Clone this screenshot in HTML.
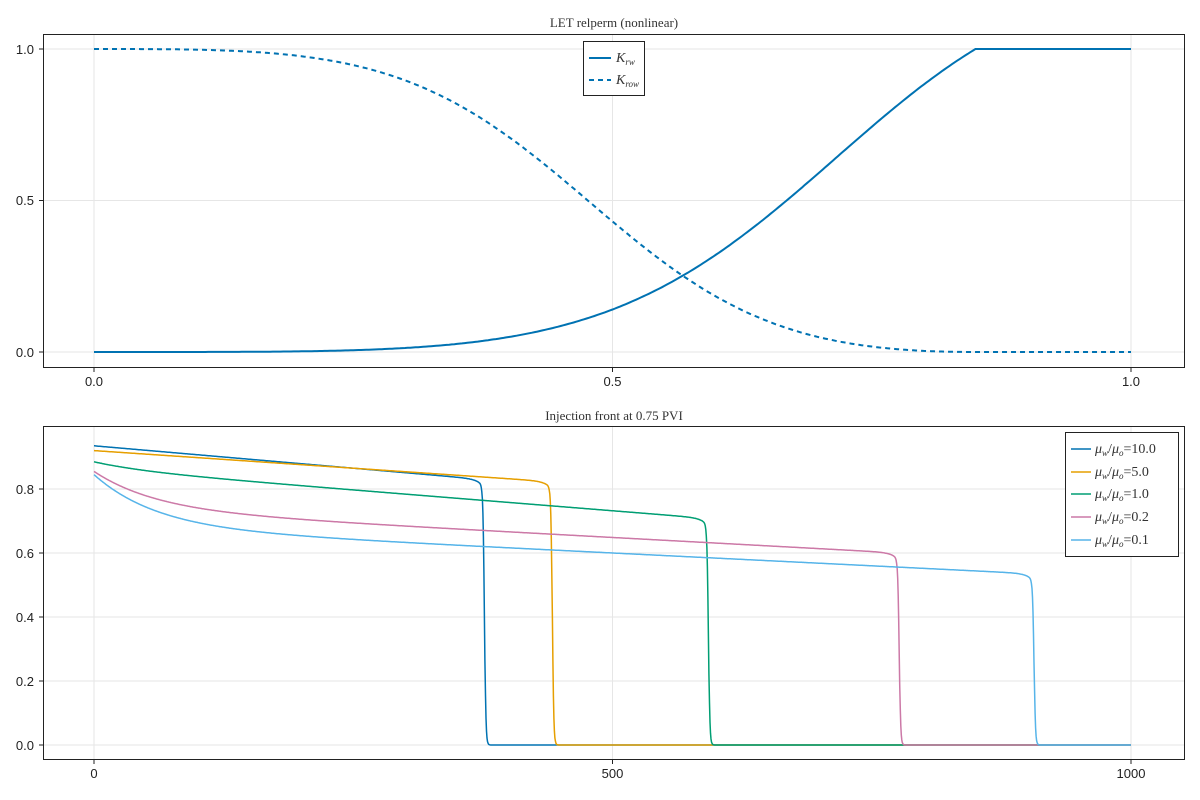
<!DOCTYPE html>
<html><head><meta charset="utf-8"><style>
body{margin:0;background:#fff;}
svg{display:block;font-family:"Liberation Sans",sans-serif;}
.t{font-family:"Liberation Serif",serif;font-size:13px;fill:#333;}
.tk{font-size:13px;fill:#222;}
.lg{font-family:"Liberation Serif",serif;font-style:italic;font-size:14px;fill:#333;}
</style></head><body>
<svg id="s" width="1200" height="800" viewBox="0 0 1200 800">
<rect width="1200" height="800" fill="#fff"/>
<g stroke="#e6e6e6" stroke-width="1">
<line x1="94" y1="34" x2="94" y2="368"/><line x1="612.5" y1="34" x2="612.5" y2="368"/><line x1="1131" y1="34" x2="1131" y2="368"/>
<line x1="43" y1="49" x2="1185" y2="49"/><line x1="43" y1="200.5" x2="1185" y2="200.5"/><line x1="43" y1="352" x2="1185" y2="352"/>
<line x1="94" y1="426" x2="94" y2="760"/><line x1="612.5" y1="426" x2="612.5" y2="760"/><line x1="1131" y1="426" x2="1131" y2="760"/>
<line x1="43" y1="745" x2="1185" y2="745"/><line x1="43" y1="681" x2="1185" y2="681"/><line x1="43" y1="617" x2="1185" y2="617"/><line x1="43" y1="553" x2="1185" y2="553"/><line x1="43" y1="489" x2="1185" y2="489"/>
</g>
<g fill="none" stroke="#222" stroke-width="1">
<rect x="43.5" y="34.5" width="1141" height="333"/>
<rect x="43.5" y="426.5" width="1141" height="333"/>
<path d="M94 368v4M612.5 368v4M1131 368v4M43 49h-4M43 200.5h-4M43 352h-4"/>
<path d="M94 760v4M612.5 760v4M1131 760v4M43 745h-4M43 681h-4M43 617h-4M43 553h-4M43 489h-4"/>
</g>
<text class="t" x="614" y="27" text-anchor="middle">LET relperm (nonlinear)</text>
<text class="t" x="614" y="420" text-anchor="middle">Injection front at 0.75 PVI</text>
<g class="tk" text-anchor="middle">
<text x="94" y="386">0.0</text><text x="612.5" y="386">0.5</text><text x="1131" y="386">1.0</text>
<text x="94" y="778">0</text><text x="612.5" y="778">500</text><text x="1131" y="778">1000</text>
</g>
<g class="tk" text-anchor="end">
<text x="34" y="54">1.0</text><text x="34" y="205">0.5</text><text x="34" y="357">0.0</text>
<text x="34" y="750">0.0</text><text x="34" y="686">0.2</text><text x="34" y="622">0.4</text><text x="34" y="558">0.6</text><text x="34" y="494">0.8</text>
</g>
<g id="curves"></g>
<rect x="583.5" y="41.5" width="61" height="54" fill="#fff" stroke="#222"/>
<line x1="589" y1="58" x2="611" y2="58" stroke="#0072b2" stroke-width="2"/>
<line x1="589" y1="80" x2="611" y2="80" stroke="#0072b2" stroke-width="2" stroke-dasharray="5,4"/>
<text class="lg" x="616" y="62">K<tspan font-size="9" dy="3">rw</tspan></text>
<text class="lg" x="616" y="84">K<tspan font-size="9" dy="3">row</tspan></text>
<rect x="1065.5" y="432.5" width="113" height="124" fill="#fff" stroke="#222"/>
<g stroke-width="1.5">
<line x1="1071" y1="449" x2="1091" y2="449" stroke="#0072b2"/>
<line x1="1071" y1="472" x2="1091" y2="472" stroke="#e69f00"/>
<line x1="1071" y1="494" x2="1091" y2="494" stroke="#009e73"/>
<line x1="1071" y1="517" x2="1091" y2="517" stroke="#cc79a7"/>
<line x1="1071" y1="540" x2="1091" y2="540" stroke="#56b4e9"/>
</g>
<g class="lg">
<text x="1095" y="453">μ<tspan font-size="9" dy="3">w</tspan><tspan dy="-3" font-style="normal">/</tspan>μ<tspan font-size="9" dy="3">o</tspan><tspan dy="-3" font-style="normal">=10.0</tspan></text>
<text x="1095" y="476">μ<tspan font-size="9" dy="3">w</tspan><tspan dy="-3" font-style="normal">/</tspan>μ<tspan font-size="9" dy="3">o</tspan><tspan dy="-3" font-style="normal">=5.0</tspan></text>
<text x="1095" y="498">μ<tspan font-size="9" dy="3">w</tspan><tspan dy="-3" font-style="normal">/</tspan>μ<tspan font-size="9" dy="3">o</tspan><tspan dy="-3" font-style="normal">=1.0</tspan></text>
<text x="1095" y="521">μ<tspan font-size="9" dy="3">w</tspan><tspan dy="-3" font-style="normal">/</tspan>μ<tspan font-size="9" dy="3">o</tspan><tspan dy="-3" font-style="normal">=0.2</tspan></text>
<text x="1095" y="544">μ<tspan font-size="9" dy="3">w</tspan><tspan dy="-3" font-style="normal">/</tspan>μ<tspan font-size="9" dy="3">o</tspan><tspan dy="-3" font-style="normal">=0.1</tspan></text>
</g>
</svg>
<script>
var g=document.getElementById('curves'),NS='http://www.w3.org/2000/svg';
function add(d,c,w,da){var p=document.createElementNS(NS,'path');p.setAttribute('d',d);p.setAttribute('fill','none');p.setAttribute('stroke',c);p.setAttribute('stroke-width',w);if(da)p.setAttribute('stroke-dasharray',da);g.appendChild(p);}
var X=function(s){return 94+s*1037;},Y=function(v){return 352-v*303;};
var d1='',d2='';
for(var i=0;i<=400;i++){var s=i/400,sn=Math.min(s/0.85,1);
var krw=Math.pow(sn,4)/(Math.pow(sn,4)+1.78*(1-sn));
var x=1-sn;var kro=x*x/(x*x+1.1*Math.pow(1-x,3));
d1+=(i?'L':'M')+X(s).toFixed(1)+' '+Y(krw).toFixed(1);
d2+=(i?'L':'M')+X(s).toFixed(1)+' '+Y(kro).toFixed(1);}
add(d1,'#0072b2',2);add(d2,'#0072b2',2,'5,4');
var P=[[0.935,0.00028,0,30,376.5,'#0072b2'],[0.92,0.00022,0,30,442,'#e69f00'],[0.885,0.00026,0.023,50,592.5,'#009e73'],[0.855,0.000175,0.119,60,776.5,'#cc79a7'],[0.845,0.00016,0.165,60,906.5,'#56b4e9']];
var XB=function(x){return 94+x*1.037;},YB=function(v){return 745-v*320;};
P.forEach(function(p){var d='';for(var x=0;x<=1000;x+=0.5){var v=p[0]-p[1]*x-p[2]*(1-Math.exp(-x/p[3]));
v-=0.025*Math.exp(Math.min((x-p[4])/6,0));v=v/(1+Math.exp((x-p[4])/0.7));
d+=(x?'L':'M')+XB(x).toFixed(1)+' '+YB(v).toFixed(1);}add(d,p[5],1.5);});
</script>
</body></html>
